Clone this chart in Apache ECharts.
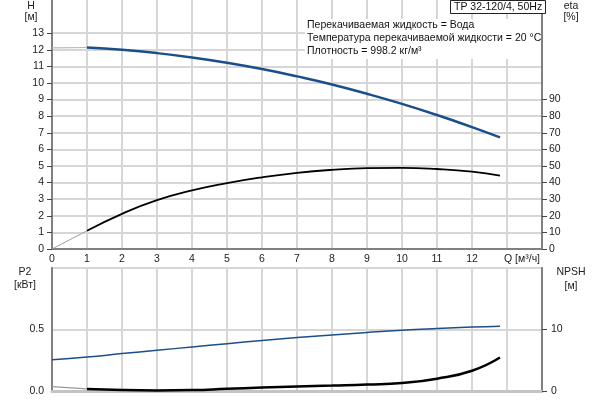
<!DOCTYPE html>
<html>
<head>
<meta charset="utf-8">
<script src="https://cdn.jsdelivr.net/npm/echarts@6/dist/echarts.min.js"></script>
<style>html,body{margin:0;padding:0;background:#fff}#c{width:600px;height:400px}</style>
</head>
<body>
<div id="c"></div>
<script>
// Flow rate Q [m3/h]
const q = [0, 1, 2, 3, 4, 5, 6, 7, 8, 9, 10, 11, 12, 12.8];
// Head H [m]
const head = [12.12, 12.14, 12.0, 11.8, 11.54, 11.22, 10.84, 10.4, 9.91, 9.35, 8.74, 8.07, 7.34, 6.72];
// Efficiency eta [%]
const eta = [0, 11, 21.2, 29.4, 35.3, 39.7, 43.2, 45.9, 47.7, 48.7, 48.9, 48.2, 46.6, 44.2];
// Power P2 [kW]
const p2 = [0.254, 0.276, 0.304, 0.331, 0.358, 0.385, 0.411, 0.435, 0.456, 0.476, 0.494, 0.508, 0.52, 0.527];
// NPSH [m]
const npsh = [0.7, 0.33, 0.16, 0.1, 0.15, 0.35, 0.55, 0.72, 0.88, 1.05, 1.3, 2.0, 3.3, 5.45];

const xTickLabels = [0, 1, 2, 3, 4, 5, 6, 7, 8, 9, 10, 11, 12];
const hTickLabels = [0, 1, 2, 3, 4, 5, 6, 7, 8, 9, 10, 11, 12, 13];
const etaTickLabels = [0, 10, 20, 30, 40, 50, 60, 70, 80, 90];
const p2TickLabels = [0, 0.5];
const npshTickLabels = [0, 10];

const pairs = (arr) => q.map((x, i) => [x, arr[i]]);
const startPart = (arr) => pairs(arr).filter(p => p[0] <= 1);
const mainPart = (arr) => pairs(arr).filter(p => p[0] >= 1);

const FONT = 'Liberation Sans';
const FS = 10.5;
const TXT = '#222';
const AXIS = '#808080';
const GRID = '#d6d6d6';
const BLUE = '#1b4f8a';
const F = FS + 'px "Liberation Sans"';

const chart = echarts.init(document.getElementById('c'), null, {renderer: 'canvas'});

const lab = (extra) => Object.assign({fontFamily: FONT, fontSize: FS, color: TXT}, extra);

chart.setOption({
  animation: false,
  title: {
    text: 'TP 32-120/4, 50Hz',
    left: 450, top: 0,
    padding: [2, 4, 1, 4],
    borderColor: '#222', borderWidth: 1,
    backgroundColor: '#fff',
    textStyle: {fontFamily: FONT, fontSize: FS, fontWeight: 'normal', color: '#111'}
  },
  grid: [
    {left: 52, right: 58, top: 0, height: 249},
    {left: 52, right: 58, top: 268, height: 123, show: true, borderColor: AXIS, borderWidth: 2, backgroundColor: 'transparent'}
  ],
  xAxis: [
    {
      type: 'value', gridIndex: 0, min: 0, max: 14, interval: 1,
      axisLine: {show: true, onZero: false, lineStyle: {color: AXIS, width: 2}},
      axisTick: {show: false},
      axisLabel: lab({margin: 5, customValues: xTickLabels}),
      splitLine: {show: true, lineStyle: {color: GRID, width: 2}}
    },
    {
      type: 'value', gridIndex: 1, min: 0, max: 14, interval: 1,
      axisLine: {show: true, onZero: false, lineStyle: {color: '#c4c4c4', width: 3}},
      axisTick: {show: false},
      axisLabel: {show: false},
      splitLine: {show: true, lineStyle: {color: GRID, width: 2}}
    }
  ],
  yAxis: [
    {
      type: 'value', gridIndex: 0, min: 0, max: 15, interval: 1, position: 'left',
      axisLine: {show: true, onZero: false, lineStyle: {color: AXIS, width: 2}},
      axisTick: {show: true, length: 5, customValues: hTickLabels, lineStyle: {color: '#444'}},
      axisLabel: lab({margin: 8, customValues: hTickLabels}),
      splitLine: {show: true, lineStyle: {color: GRID, width: 2}}
    },
    {
      type: 'value', gridIndex: 0, min: 0, max: 150, interval: 10, position: 'right',
      axisLine: {show: true, onZero: false, lineStyle: {color: AXIS, width: 2}},
      axisTick: {show: true, length: 5, customValues: etaTickLabels, lineStyle: {color: '#444'}},
      axisLabel: lab({margin: 7, customValues: etaTickLabels}),
      splitLine: {show: false}
    },
    {
      type: 'value', gridIndex: 1, min: 0, max: 1, interval: 0.5, position: 'left',
      axisLine: {show: true, onZero: false, lineStyle: {color: AXIS, width: 2}},
      axisTick: {show: false},
      axisLabel: lab({margin: 8, customValues: p2TickLabels, formatter: v => v.toFixed(1)}),
      splitLine: {show: true, lineStyle: {color: GRID, width: 2}}
    },
    {
      type: 'value', gridIndex: 1, min: 0, max: 20, interval: 10, position: 'right',
      axisLine: {show: true, onZero: false, lineStyle: {color: AXIS, width: 2}},
      axisTick: {show: true, length: 5, customValues: npshTickLabels, lineStyle: {color: '#444'}},
      axisLabel: lab({margin: 9, customValues: npshTickLabels}),
      splitLine: {show: false}
    }
  ],
  series: [
    {type: 'line', xAxisIndex: 0, yAxisIndex: 0, data: startPart(head), smooth: true, symbol: 'none', lineStyle: {color: '#b8b8b8', width: 1.2}},
    {type: 'line', xAxisIndex: 0, yAxisIndex: 0, data: mainPart(head), smooth: true, symbol: 'none', lineStyle: {color: BLUE, width: 2.5}},
    {type: 'line', xAxisIndex: 0, yAxisIndex: 1, data: startPart(eta), smooth: true, symbol: 'none', lineStyle: {color: '#999', width: 1}},
    {type: 'line', xAxisIndex: 0, yAxisIndex: 1, data: mainPart(eta), smooth: true, symbol: 'none', lineStyle: {color: '#000', width: 1.8}},
    {type: 'line', xAxisIndex: 1, yAxisIndex: 2, data: pairs(p2), smooth: true, symbol: 'none', lineStyle: {color: BLUE, width: 1.5}},
    {type: 'line', xAxisIndex: 1, yAxisIndex: 3, data: startPart(npsh), smooth: true, symbol: 'none', lineStyle: {color: '#999', width: 1.2}},
    {type: 'line', xAxisIndex: 1, yAxisIndex: 3, data: mainPart(npsh), smooth: true, symbol: 'none', lineStyle: {color: '#000', width: 2.5}}
  ],
  graphic: [
    {type: 'rect', left: 305, top: 19, shape: {width: 236, height: 40}, style: {fill: '#fff'}, z: 50},
    {type: 'text', left: 307, top: 20, z: 51, style: {text: 'Перекачиваемая жидкость = Вода', font: F, fill: '#111'}},
    {type: 'text', left: 307, top: 33, z: 51, style: {text: 'Температура перекачиваемой жидкости = 20 °C', font: F, fill: '#111'}},
    {type: 'text', left: 307, top: 46, z: 51, style: {text: 'Плотность = 998.2 кг/м³', font: F, fill: '#111'}},
    {type: 'text', x: 31, y: 6, z: 51, style: {text: 'H', font: F, fill: TXT, align: 'center', verticalAlign: 'middle'}},
    {type: 'text', x: 31, y: 17, z: 51, style: {text: '[м]', font: F, fill: TXT, align: 'center', verticalAlign: 'middle'}},
    {type: 'text', x: 571, y: 6, z: 51, style: {text: 'eta', font: F, fill: TXT, align: 'center', verticalAlign: 'middle'}},
    {type: 'text', x: 571, y: 17, z: 51, style: {text: '[%]', font: F, fill: TXT, align: 'center', verticalAlign: 'middle'}},
    {type: 'text', x: 504, y: 259, z: 51, style: {text: 'Q [м³/ч]', font: F, fill: TXT, align: 'left', verticalAlign: 'middle'}},
    {type: 'text', x: 25, y: 272, z: 51, style: {text: 'P2', font: F, fill: TXT, align: 'center', verticalAlign: 'middle'}},
    {type: 'text', x: 25, y: 285, z: 51, style: {text: '[кВт]', font: F, fill: TXT, align: 'center', verticalAlign: 'middle'}},
    {type: 'text', x: 571, y: 272, z: 51, style: {text: 'NPSH', font: F, fill: TXT, align: 'center', verticalAlign: 'middle'}},
    {type: 'text', x: 571, y: 286, z: 51, style: {text: '[м]', font: F, fill: TXT, align: 'center', verticalAlign: 'middle'}}
  ]
});
</script>
</body>
</html>
